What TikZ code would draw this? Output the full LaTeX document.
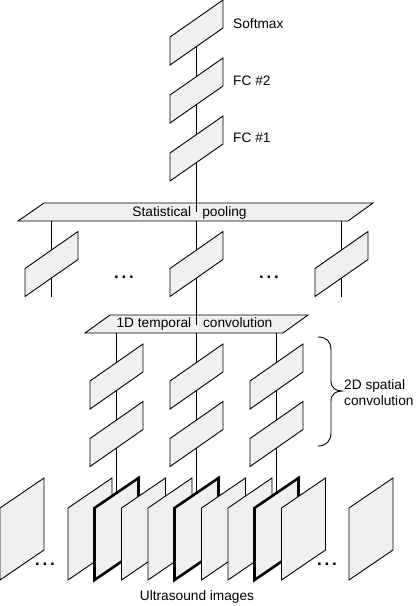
\documentclass[tikz,border=0pt]{standalone}
\usepackage{fontspec}
\setmainfont{Liberation Sans}
\definecolor{boxfill}{HTML}{F0F0F0}
\tikzset{
  layer/.style={draw=black, line width=0.9pt, fill=boxfill, line join=miter},
  thickframe/.style={draw=black, line width=2.6pt, fill=boxfill, line join=miter},
  conn/.style={draw=black, line width=0.9pt},
  lbl/.style={font=\fontsize{13.7}{16}\selectfont, inner sep=0pt},
  dots/.style={font=\fontsize{17}{18}\selectfont\bfseries, inner sep=0pt}
}
\newcommand\threedots{.\hspace{2.8pt}.\hspace{2.8pt}.}
\newcommand\smallbox[3]{%
  \coordinate (#3) at (#1,#2);
  \draw[layer] ({#1-26.5},{#2+4.5}) -- ({#1-26.5},{#2+32.5}) -- ({#1+26.5},{#2-4.5}) -- ({#1+26.5},{#2-32.5}) -- cycle;}
\newcommand\imgframe[2]{%
  \draw[#2] (#1,508) -- (#1,580) -- ({#1+44},550) -- ({#1+44},478) -- cycle;}
\begin{document}
\begin{tikzpicture}[x=1pt,y=-1pt]
\useasboundingbox (0,0) rectangle (417,606);
% wide boxes
\draw[layer] (18,221) -- (44,203) -- (373,203) -- (348,221) -- cycle;
\draw[layer] (85,333) -- (110,315) -- (308,315) -- (283,333) -- cycle;
% named points
\coordinate (poolin) at (196.5,212);
\coordinate (poolout) at (196.5,221);
\coordinate (tempin) at (196.5,325);
\coordinate (tempout) at (196.5,333);
\coordinate (smax) at (196.5,32.5);
\coordinate (p1) at (51.5,221);
\coordinate (p3) at (341.5,221);
\coordinate (e1) at (51.5,297);
\coordinate (e3) at (341.5,297);
\coordinate (t1) at (116.5,333);
\coordinate (t3) at (276.5,333);
\coordinate (i1) at (116.5,500);
\coordinate (i2) at (196.5,500);
\coordinate (i3) at (276.5,500);
% connectors
\draw[conn] (smax) -- (poolin);
\draw[conn] (poolout) -- (tempin);
\draw[conn] (p1) -- (e1);
\draw[conn] (p3) -- (e3);
\draw[conn] (t1) -- (i1);
\draw[conn] (tempout) -- (i2);
\draw[conn] (t3) -- (i3);
% small boxes
\smallbox{196.5}{32.5}{softmax}
\smallbox{196.5}{90.5}{fc2}
\smallbox{196.5}{148.5}{fc1}
\smallbox{51.5}{264}{mA}
\smallbox{196.5}{264}{mB}
\smallbox{341.5}{264}{mC}
\smallbox{116.5}{376.5}{sA1}
\smallbox{196.5}{376.5}{sB1}
\smallbox{276.5}{376.5}{sC1}
\smallbox{116.5}{434}{sA2}
\smallbox{196.5}{434}{sB2}
\smallbox{276.5}{434}{sC2}
% labels
\node[lbl, anchor=west] (tsoft) at (233,23.5) {Softmax};
\node[lbl, anchor=west] (tfc2) at (233,81) {FC \#2};
\node[lbl, anchor=west] (tfc1) at (233,138) {FC \#1};
\node[lbl] (tpool) at (189.5,213) {Statistical\hspace{7.5pt} pooling};
\node[lbl] (ttemp) at (194.5,324) {1D temporal\hspace{8pt} convolution};
\node[dots] (d1) at (124,277) {\threedots};
\node[dots] (d2) at (269,277) {\threedots};
% brace
\draw[conn] (318,337) .. controls (326,337) and (331,341) .. (331,350) -- (331,381)
  .. controls (331,388) and (336,391) .. (342,391)
  .. controls (336,391) and (331,394) .. (331,401) -- (331,433)
  .. controls (331,441) and (326,446) .. (318,446);
\node[lbl, anchor=west, align=left] (tspat) at (344,393) {2D spatial\\convolution};
% images
\imgframe{0}{layer}
\imgframe{68}{layer}
\imgframe{94.5}{thickframe}
\imgframe{121.5}{layer}
\imgframe{148}{layer}
\imgframe{174.5}{thickframe}
\imgframe{201.5}{layer}
\imgframe{228}{layer}
\imgframe{254.5}{thickframe}
\imgframe{281.5}{layer}
\imgframe{349}{layer}
\node[dots] (d3) at (45,564) {\threedots};
\node[dots] (d4) at (327,564) {\threedots};
\node[lbl] (tus) at (197,597) {Ultrasound images};
\end{tikzpicture}
\end{document}
